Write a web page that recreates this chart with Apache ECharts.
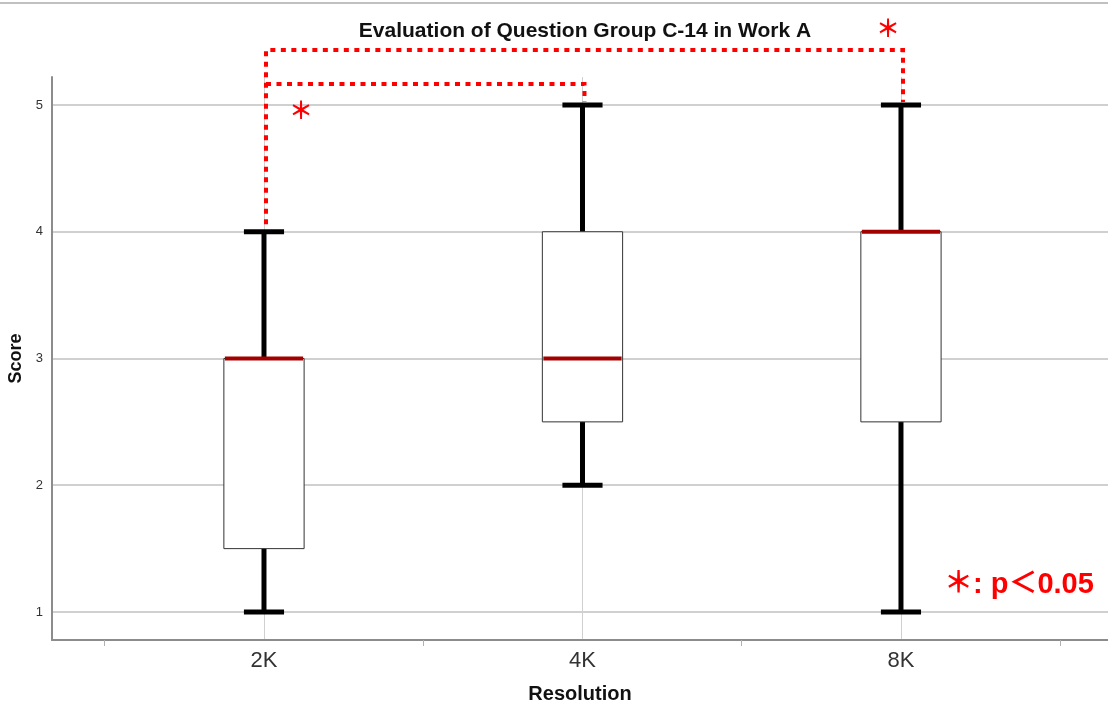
<!DOCTYPE html>
<html><head><meta charset="utf-8">
<script src="https://cdn.jsdelivr.net/npm/echarts@6/dist/echarts.min.js"></script>
<style>html,body{margin:0;padding:0;background:#fff}#c{width:1108px;height:709px}</style>
</head><body><div id="c"></div>
<script>
// ---- data ----
const categories = ['2K', '4K', '8K'];
const whiskerLow  = [1, 2, 1];
const quartile1   = [1.5, 2.5, 2.5];
const medians     = [3, 3, 4];
const quartile3   = [3, 4, 4];
const whiskerHigh = [4, 5, 5];
const yTickValues = [1, 2, 3, 4, 5];
// significance brackets (category indices and score levels)
const bracketFrom  = [0, 0];
const bracketTo    = [2, 1];
const bracketStart = [4.06, 5.166];
const bracketTop   = [5.434, 5.166];
const bracketEnd   = [5.024, 5.024];
const bracketLabel = ['＊', '＊'];
const noteText = '＊: p＜0.05';

// ---- styles / layout ----
const X_MIN = -0.6656, X_MAX = 2.65;
const Y_MIN = 0.779, Y_MAX = 5.221;
const BOX_HALF = 0.126, CAP_HALF = 0.063;
const starOffset = [[-13, -22], [37, 26]];

const boxData = categories.map((c, i) => [i, whiskerLow[i], quartile1[i], medians[i], quartile3[i], whiskerHigh[i]]);
const bracketData = bracketFrom.map((f, i) => [f, bracketTo[i], bracketStart[i], bracketTop[i], bracketEnd[i], i]);
const boundaryTicks = categories.map((c, i) => i - 0.5).concat([categories.length - 0.5]);
const centerTicks = categories.map((c, i) => i);

const chart = echarts.init(document.getElementById('c'), null, {renderer: 'canvas'});
chart.setOption({
  backgroundColor: '#fff',
  animation: false,
  title: {
    text: 'Evaluation of Question Group C-14 in Work A',
    left: 580, top: 16, textAlign: 'center',
    textStyle: {fontFamily: 'Liberation Sans, Arial, sans-serif', fontSize: 21, fontWeight: 'bold', color: '#111'}
  },
  grid: {left: 52, right: 0, top: 77, bottom: 69, outerBoundsMode: 'none', containLabel: false},
  xAxis: [{
    type: 'value', min: X_MIN, max: X_MAX, position: 'bottom',
    name: 'Resolution', nameLocation: 'middle', nameGap: 44,
    nameTextStyle: {fontFamily: 'Liberation Sans, Arial, sans-serif', fontSize: 20, fontWeight: 'bold', color: '#111'},
    axisLine: {show: true, onZero: false, lineStyle: {color: '#8c8c8c', width: 2}},
    axisTick: {show: true, customValues: boundaryTicks, length: 6, lineStyle: {color: '#b0b0b0', width: 1}},
    axisLabel: {customValues: centerTicks, formatter: v => categories[Math.round(v)], fontSize: 22, color: '#333', margin: 10,
      fontFamily: 'Liberation Sans, Arial, sans-serif'},
    splitLine: {show: false}
  }, {
    type: 'value', min: X_MIN, max: X_MAX, position: 'bottom', gridIndex: 0,
    axisLine: {show: false}, axisLabel: {show: false},
    axisTick: {show: false, customValues: centerTicks},
    splitLine: {show: true, lineStyle: {color: '#d0d0d0', width: 1}}
  }],
  yAxis: {
    type: 'value', min: Y_MIN, max: Y_MAX,
    name: 'Score', nameLocation: 'middle', nameGap: 20, nameRotate: 90,
    nameTextStyle: {fontFamily: 'Liberation Sans, Arial, sans-serif', fontSize: 18, fontWeight: 'bold', color: '#111'},
    axisLine: {show: true, onZero: false, lineStyle: {color: '#8c8c8c', width: 2}},
    axisTick: {show: false, customValues: yTickValues},
    axisLabel: {customValues: yTickValues, fontSize: 13, color: '#333', margin: 9, fontFamily: 'Liberation Sans, Arial, sans-serif'},
    splitLine: {show: true, lineStyle: {color: '#d0d0d0', width: 2}}
  },
  series: [{
    type: 'custom', name: 'box', clip: false, z: 3,
    data: boxData,
    encode: {x: 0, y: [1, 5]},
    renderItem: function (params, api) {
      const x = api.value(0);
      const lo = api.coord([x, api.value(1)]);
      const b1 = api.coord([x, api.value(2)]);
      const md = api.coord([x, api.value(3)]);
      const b3 = api.coord([x, api.value(4)]);
      const hi = api.coord([x, api.value(5)]);
      const left = api.coord([x - BOX_HALF, 0])[0];
      const right = api.coord([x + BOX_HALF, 0])[0];
      const cl = api.coord([x - CAP_HALF, 0])[0];
      const cr = api.coord([x + CAP_HALF, 0])[0];
      const blk = {stroke: '#000', lineWidth: 5};
      return {type: 'group', children: [
        {type: 'line', shape: {x1: lo[0], y1: lo[1], x2: b1[0], y2: b1[1]}, style: blk},
        {type: 'line', shape: {x1: hi[0], y1: hi[1], x2: b3[0], y2: b3[1]}, style: blk},
        {type: 'line', shape: {x1: cl, y1: lo[1], x2: cr, y2: lo[1]}, style: blk},
        {type: 'line', shape: {x1: cl, y1: hi[1], x2: cr, y2: hi[1]}, style: blk},
        {type: 'rect', shape: {x: left, y: b3[1], width: right - left, height: b1[1] - b3[1]},
          style: {fill: '#fff', stroke: '#333', lineWidth: 1}},
        {type: 'line', shape: {x1: left + 1, y1: md[1], x2: right - 1, y2: md[1]}, style: {stroke: '#a30000', lineWidth: 4}}
      ]};
    }
  }, {
    type: 'custom', name: 'brackets', clip: false, z: 4,
    data: bracketData,
    encode: {x: [0, 1], y: [2, 3, 4]},
    renderItem: function (params, api) {
      const i = api.value(5);
      const a = api.coord([api.value(0), api.value(2)]);
      const b = api.coord([api.value(0), api.value(3)]);
      const c = api.coord([api.value(1), api.value(3)]);
      const d = api.coord([api.value(1), api.value(4)]);
      const off = starOffset[i];
      const anchor = i === 0 ? c : b;
      const pts = (api.value(2) === api.value(3)) ? [b, c, d] : [a, b, c, d];
      return {type: 'group', children: [
        {type: 'polyline', shape: {points: pts.map(p => [p[0] + 2, p[1]])},
          style: {stroke: '#ff0000', lineWidth: 4, lineDash: [5, 5.5], fill: null}},
        {type: 'text', x: anchor[0] + off[0], y: anchor[1] + off[1],
          style: {text: bracketLabel[i], fill: '#ff0000', fontSize: 24, fontWeight: 'bold', fontFamily: 'Noto Sans CJK JP, sans-serif',
            align: 'center', verticalAlign: 'middle'}}
      ]};
    }
  }],
  graphic: [
    {type: 'line', shape: {x1: 0, y1: 3, x2: 1108, y2: 3}, style: {stroke: '#c0c0c0', lineWidth: 2}},
    {type: 'text', x: 944, y: 585, style: {text: noteText, fill: '#ff0000', fontSize: 29, fontWeight: 'bold',
      fontFamily: 'Liberation Sans, Noto Sans CJK JP, sans-serif', verticalAlign: 'middle', align: 'left'}}
  ]
});
</script></body></html>
